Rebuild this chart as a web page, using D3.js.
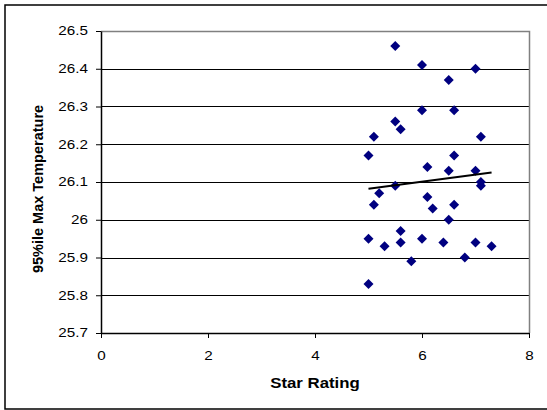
<!DOCTYPE html>
<html><head><meta charset="utf-8">
<script src="https://cdn.jsdelivr.net/npm/d3@7"></script>
<style>body{margin:0;background:#fff}svg{display:block}text{font-family:"Liberation Sans",Arial,sans-serif}</style>
</head><body>
<svg id="c" width="547" height="410"></svg>
<script>
const starRating = [5.5,6,7,6.5,6,6.6,5.5,5.6,5.1,7.1,5,6.6,6.1,6.5,7,7.1,7.1,5.5,5.2,5.1,6.1,6.2,6.6,6.5,5.6,5,6,5.6,5.3,6.4,7,7.3,5.8,6.8,5];
const maxTemp = [26.46,26.41,26.40,26.37,26.29,26.29,26.26,26.24,26.22,26.22,26.17,26.17,26.14,26.13,26.13,26.10,26.09,26.09,26.07,26.04,26.06,26.03,26.04,26.00,25.97,25.95,25.95,25.94,25.93,25.94,25.94,25.93,25.89,25.90,25.83];
const xTicks = [0,2,4,6,8];
const yTicks = [25.7,25.8,25.9,26,26.1,26.2,26.3,26.4,26.5];
const yTickLabels = ["25.7","25.8","25.9","26","26.1","26.2","26.3","26.4","26.5"];

const svg = d3.select("#c");
const L=101,R=529,T=31,B=333;
const x = d3.scaleLinear().domain([0,8]).range([L,R]);
const y = d3.scaleLinear().domain([25.7,26.5]).range([B,T]);

svg.append("rect").attr("x",5).attr("y",5).attr("width",560).attr("height",404)
  .attr("fill","#fff").attr("stroke","#000").attr("stroke-width",1.5);

svg.append("g").selectAll("line").data(yTicks.filter(v=>v>25.75&&v<26.45)).join("line")
  .attr("x1",L).attr("x2",R).attr("y1",d=>Math.round(y(d))+0.5).attr("y2",d=>Math.round(y(d))+0.5)
  .attr("stroke","#000").attr("stroke-width",1);
svg.append("path").attr("d",`M${L},${T+0.5}H${R+0.5}V${B}`).attr("fill","none").attr("stroke","#808080").attr("stroke-width",1.5);

const fs = 12, sx = 1.27;
const yAxis = d3.axisLeft(y).tickValues(yTicks).tickFormat((d,i)=>yTickLabels[i]).tickSize(5).tickSizeOuter(0);
const gy = svg.append("g").attr("transform",`translate(${L},0)`).call(yAxis);
const xAxis = d3.axisBottom(x).tickValues(xTicks).tickFormat(d3.format("d")).tickSize(5).tickSizeOuter(0);
const gx = svg.append("g").attr("transform",`translate(0,${B})`).call(xAxis);
[gx,gy].forEach(g=>{
  g.select(".domain").attr("stroke","#000").attr("stroke-width",1.5);
  g.selectAll(".tick line").attr("stroke","#000");
  g.selectAll("text").attr("font-size",fs).attr("fill","#000").attr("font-family","Liberation Sans, Arial, sans-serif");
});
gy.selectAll("text").attr("x",0).attr("transform",`translate(-13,0) scale(${sx},1)`);
gx.selectAll("text").attr("y",0).attr("transform",`translate(0,18) scale(${sx},1)`);

const pts = starRating.map((s,i)=>({x:s,y:maxTemp[i]}));
svg.append("g").selectAll("path").data(pts).join("path")
  .attr("d","M0,-5L5,0L0,5L-5,0Z")
  .attr("transform",d=>`translate(${x(d.x)},${y(d.y)})`)
  .attr("fill","#000080");

const mx=d3.mean(pts,d=>d.x), my=d3.mean(pts,d=>d.y);
const slope=d3.sum(pts,d=>(d.x-mx)*(d.y-my))/d3.sum(pts,d=>(d.x-mx)**2);
const icpt=my-slope*mx;
const [x0,x1]=d3.extent(pts,d=>d.x);
svg.append("line").attr("x1",x(x0)).attr("y1",y(icpt+slope*x0)).attr("x2",x(x1)).attr("y2",y(icpt+slope*x1))
  .attr("stroke","#000").attr("stroke-width",2);

svg.append("text").attr("transform","translate(315,388) scale(1.16,1)").attr("text-anchor","middle")
  .attr("font-size",14.5).attr("font-weight","bold").text("Star Rating");
svg.append("text").attr("transform","translate(43,189) rotate(-90)").attr("text-anchor","middle")
  .attr("font-size",14.5).attr("font-weight","bold").text("95%ile Max Temperature");
</script>
</body></html>
